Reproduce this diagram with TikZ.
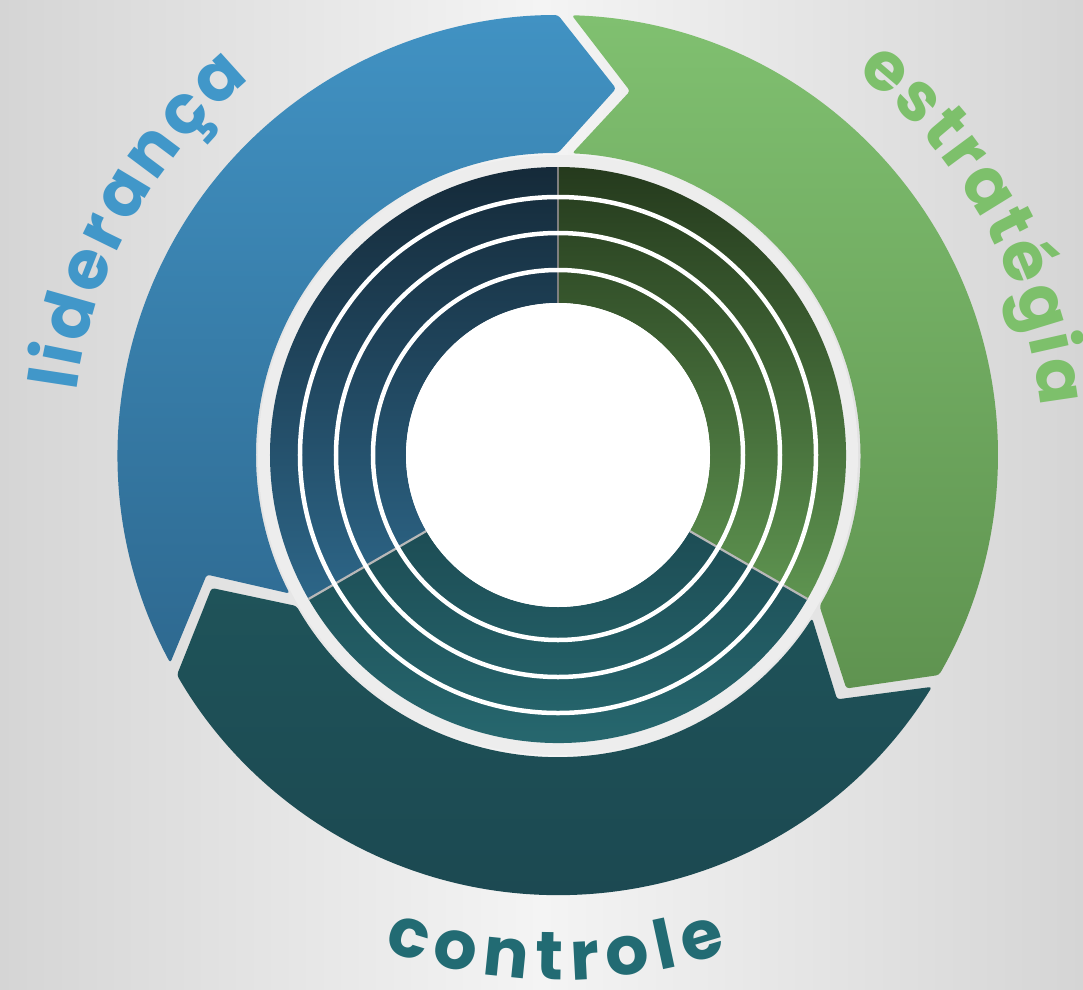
\documentclass[tikz,border=0pt]{standalone}
\usepackage{fontspec}
\usetikzlibrary{decorations.text}
\newfontfamily\labelfont{Poppins}
\definecolor{bgside}{HTML}{D5D5D5}
\definecolor{bgmid}{HTML}{F4F4F4}
\definecolor{ringgap}{HTML}{EDEDED}
\definecolor{bluetop}{HTML}{4192C3}
\definecolor{bluebot}{HTML}{2E6990}
\definecolor{greentop}{HTML}{80C070}
\definecolor{greenbot}{HTML}{5F9350}
\definecolor{tealtop}{HTML}{1F5359}
\definecolor{tealbot}{HTML}{1B4750}
\definecolor{navytop}{HTML}{152A39}
\definecolor{navybot}{HTML}{2D6688}
\definecolor{dgreentop}{HTML}{253A1D}
\definecolor{dgreenbot}{HTML}{5E9450}
\definecolor{dtealtop}{HTML}{1D4D55}
\definecolor{dtealbot}{HTML}{286C73}
\definecolor{txtblue}{HTML}{4197C9}
\definecolor{txtgreen}{HTML}{7DC06B}
\definecolor{txtteal}{HTML}{226B73}
\definecolor{divgray}{HTML}{B8B8B8}
\tikzset{
  ringline/.style={white, line width=4.5pt},
  divline/.style={divgray, line width=2.2pt},
  curvedlabel/.style={decorate, decoration={text along path, text align={fit to path}, text color=#1}},
}
\newcommand{\labfont}{\labelfont\bfseries\fontsize{68}{80}\selectfont}
% arrow: #1 head base angle, #2 tail base angle (= head + 120)
\newcommand{\arrowpath}[2]{%
  ({#2-1.8}:440pt) arc[start angle={#2-1.8}, end angle={#1}, radius=440pt]
  -- ({#1-9}:371pt) -- (#1:302pt)
  arc[start angle={#1}, end angle={#2-2.7}, radius=302pt]
  -- ({#2-11.2}:371pt) -- cycle}
\begin{document}
\begin{tikzpicture}[x=1pt,y=1pt]
\useasboundingbox (-558pt,-534pt) rectangle (525pt,455pt);
% background
\shade[left color=bgside, right color=bgside, middle color=bgmid] (-558pt,-534pt) rectangle (525pt,455pt);
% outer arrows
\shade[top color=bluetop, bottom color=bluebot, rounded corners=3pt] \arrowpath{90}{210};
\shade[top color=greentop, bottom color=greenbot, rounded corners=3pt] \arrowpath{-30}{90};
\shade[top color=tealtop, bottom color=tealbot, rounded corners=3pt] \arrowpath{-150}{-30};
% inner disk border
\fill[ringgap] (0,0) circle[radius=300pt];
% inner sectors
\shade[top color=navytop, bottom color=navybot]
  (90:288pt) arc[start angle=90, end angle=210, radius=288pt]
  -- (210:152pt) arc[start angle=210, end angle=90, radius=152pt] -- cycle;
\shade[top color=dgreentop, bottom color=dgreenbot]
  (-30:288pt) arc[start angle=-30, end angle=90, radius=288pt]
  -- (90:152pt) arc[start angle=90, end angle=-30, radius=152pt] -- cycle;
\shade[top color=dtealtop, bottom color=dtealbot]
  (210:288pt) arc[start angle=210, end angle=330, radius=288pt]
  -- (330:152pt) arc[start angle=330, end angle=210, radius=152pt] -- cycle;
% dividers
\draw[divline, gray] (90:152pt) -- (90:288pt);
\draw[divline] (210:152pt) -- (210:288pt);
\draw[divline] (330:152pt) -- (330:288pt);
% white rings
\draw[ringline] (0,0) circle[radius=185pt];
\draw[ringline] (0,0) circle[radius=222pt];
\draw[ringline] (0,0) circle[radius=258pt];
% centre
\fill[white] (0,0) circle[radius=152pt];
% curved labels
\path[curvedlabel=txtblue, decoration={text={|\labfont|liderança}}]
  (172.5:486pt) arc[start angle=172.5, end angle=129.3, radius=486pt];
\path[curvedlabel=txtgreen, decoration={text={|\labfont|estratégia}}]
  (52:485pt) arc[start angle=52, end angle=5.7, radius=485pt];
\path[curvedlabel=txtteal, decoration={text={|\labfont|controle}}]
  (250.6:525pt) arc[start angle=250.6, end angle=288.8, radius=525pt];
\end{tikzpicture}
\end{document}
